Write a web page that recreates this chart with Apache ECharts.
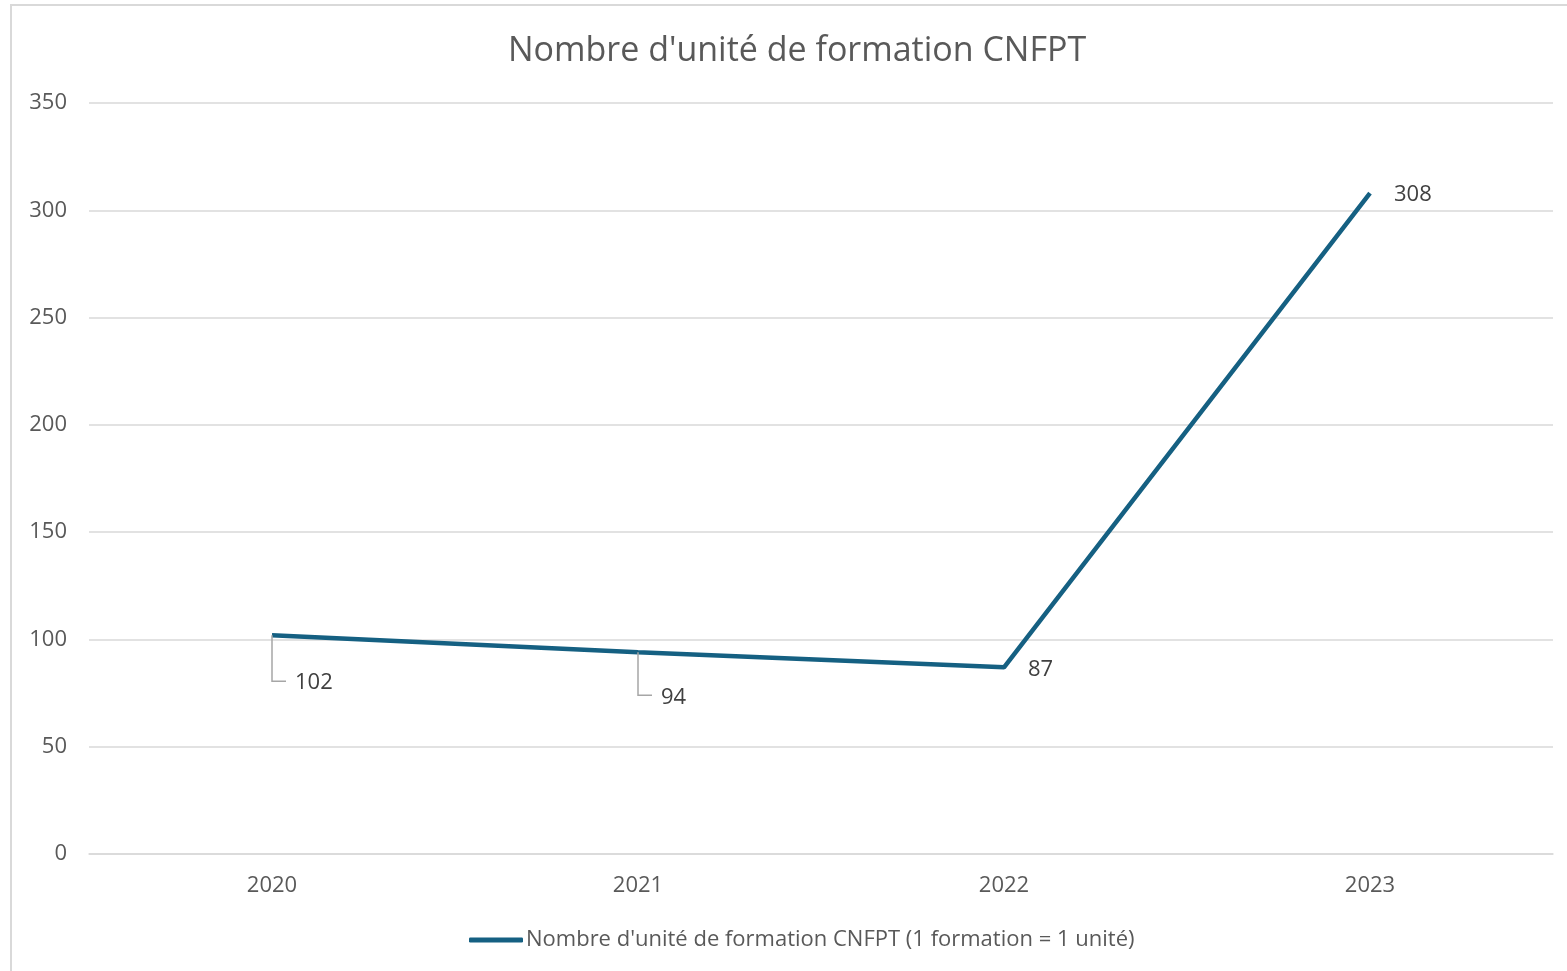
<!DOCTYPE html>
<html>
<head>
<meta charset="utf-8">
<script src="https://cdn.jsdelivr.net/npm/echarts@6/dist/echarts.min.js"></script>
<style>
  html, body { margin: 0; padding: 0; background: #fff; }
  #chart { width: 1567px; height: 971px; }
  #frame { position: absolute; left: 10px; top: 4px; width: 1570px; height: 980px;
           border: 2px solid #d9d9d9; pointer-events: none; }
</style>
</head>
<body>
<div id="chart"></div>
<div id="frame"></div>
<script>
  const years = ['2020', '2021', '2022', '2023']
  const unites = [102, 94, 87, 308]
  const yTicks = [0, 50, 100, 150, 200, 250, 300, 350]
  const seriesName = "Nombre d'unité de formation CNFPT (1 formation = 1 unité)"

  const lineColor = '#156082'
  const textColor = '#595959'

  // which points get a leader line + label below-right (like excel moved labels)
  const leader = [true, true, false, false]

  const chart = echarts.init(document.getElementById('chart'))

  chart.setOption({
    animation: false,
    title: {
      text: "Nombre d'unité de formation CNFPT",
      left: 503,
      top: 29,
      textStyle: { fontFamily: 'Open Sans', fontSize: 34, fontWeight: 'normal', color: textColor }
    },
    legend: {
      bottom: 15,
      left: 464,
      icon: 'roundRect',
      itemWidth: 54,
      itemHeight: 5,
      itemGap: 10,
      textStyle: { fontFamily: 'Open Sans', fontSize: 22, color: textColor, padding: [0, 0, 0, -2] },
      data: [seriesName]
    },
    grid: { left: 89, right: 14, top: 103, bottom: 117 },
    xAxis: {
      type: 'category',
      data: years,
      boundaryGap: true,
      axisLine: { lineStyle: { color: '#d9d9d9', width: 1.5 } },
      axisTick: { show: false },
      axisLabel: { margin: 21, fontFamily: 'Open Sans', fontSize: 22, color: textColor }
    },
    yAxis: {
      type: 'value',
      min: yTicks[0],
      max: yTicks[yTicks.length - 1],
      interval: 50,
      axisLine: { show: false },
      axisTick: { show: false },
      splitLine: { lineStyle: { color: '#d9d9d9', width: 1.5 } },
      axisLabel: { margin: 22, fontFamily: 'Open Sans', fontSize: 22, color: textColor }
    },
    series: [
      {
        name: seriesName,
        type: 'line',
        data: unites,
        showSymbol: false,
        symbol: 'none',
        color: lineColor,
        lineStyle: { color: lineColor, width: 4.5 },
        z: 3
      },
      {
        // leader lines + data labels
        type: 'custom',
        data: unites.map((v, i) => [i, v]),
        silent: true,
        z: 4,
        renderItem: function (params, api) {
          const i = api.value(0)
          const p = api.coord([i, api.value(1)])
          const txt = String(api.value(1))
          const font = '22px "Open Sans"'
          if (leader[i]) {
            const dy = i === 0 ? 46 : 43
            return {
              type: 'group',
              children: [
                {
                  type: 'polyline',
                  shape: { points: [[p[0], p[1]], [p[0], p[1] + dy], [p[0] + 14, p[1] + dy]] },
                  style: { stroke: '#a6a6a6', lineWidth: 1.5, fill: null }
                },
                {
                  type: 'text',
                  style: { text: txt, x: p[0] + 23, y: p[1] + dy + 2, font: font,
                           fill: '#404040', textVerticalAlign: 'middle' }
                }
              ]
            }
          }
          return {
            type: 'text',
            style: { text: txt, x: p[0] + 24, y: p[1] + 2, font: font,
                     fill: '#404040', textVerticalAlign: 'middle' }
          }
        }
      }
    ]
  })
</script>
</body>
</html>
